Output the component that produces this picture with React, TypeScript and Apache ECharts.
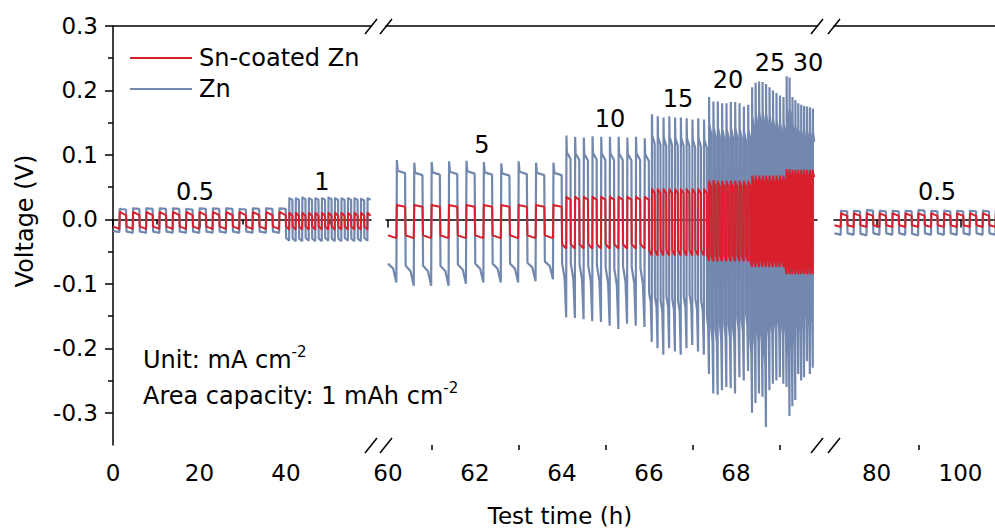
import React, { useEffect, useRef } from "react";
import * as echarts from "echarts";

// ---------- data ----------
// stages of the rate test: current density label, start/end time (h), axis segment
const stageLabels = ["0.5", "1", "5", "10", "15", "20", "25", "30", "0.5"];
const stageStart = [0, 40, 60, 64, 66, 67.33, 68.33, 69.13, 70.0];
const stageEnd = [40, 59.6, 64, 66, 67.33, 68.33, 69.13, 69.8, 109.9];
const stageSegment = [0, 0, 1, 1, 1, 1, 1, 1, 2];

// Zn: per-cycle maximum (charge) and minimum (discharge) voltage, V
const znTop = [
  [0.017, 0.018, 0.018, 0.018, 0.018, 0.017, 0.018, 0.018, 0.018, 0.017, 0.018, 0.018, 0.018],
  [0.034, 0.034, 0.035, 0.034, 0.034, 0.034, 0.035, 0.034, 0.034, 0.034, 0.034, 0.033, 0.034],
  [0.092, 0.088, 0.089, 0.09, 0.091, 0.089, 0.087, 0.09, 0.088, 0.088],
  [0.13, 0.128, 0.127, 0.129, 0.128, 0.128, 0.128, 0.127, 0.128, 0.126],
  [0.163, 0.16, 0.158, 0.16, 0.158, 0.158, 0.157, 0.155, 0.157, 0.155],
  [0.19, 0.183, 0.183, 0.18, 0.18, 0.182, 0.182, 0.18, 0.175, 0.178],
  [0.205, 0.212, 0.214, 0.213, 0.21, 0.205, 0.2, 0.196, 0.192, 0.19],
  [0.222, 0.22, 0.19, 0.185, 0.18, 0.178, 0.176, 0.175, 0.174, 0.172],
  [0.014, 0.014, 0.015, 0.014, 0.014, 0.014, 0.015, 0.014, 0.014, 0.014, 0.014, 0.014, 0.014],
];
const znBottom = [
  [-0.02, -0.021, -0.021, -0.021, -0.021, -0.021, -0.021, -0.021, -0.021, -0.021, -0.021, -0.021, -0.021],
  [-0.033, -0.034, -0.034, -0.033, -0.034, -0.034, -0.033, -0.034, -0.034, -0.033, -0.034, -0.034, -0.033],
  [-0.098, -0.103, -0.103, -0.103, -0.1, -0.098, -0.098, -0.098, -0.096, -0.093],
  [-0.152, -0.153, -0.155, -0.158, -0.159, -0.165, -0.17, -0.162, -0.165, -0.167],
  [-0.19, -0.2, -0.21, -0.2, -0.205, -0.21, -0.2, -0.195, -0.205, -0.21],
  [-0.24, -0.27, -0.272, -0.265, -0.26, -0.262, -0.27, -0.245, -0.25, -0.235],
  [-0.3, -0.285, -0.27, -0.275, -0.322, -0.265, -0.255, -0.25, -0.245, -0.255],
  [-0.26, -0.305, -0.29, -0.28, -0.24, -0.25, -0.245, -0.22, -0.24, -0.23],
  [-0.024, -0.024, -0.025, -0.024, -0.024, -0.024, -0.025, -0.024, -0.024, -0.024, -0.024, -0.024, -0.024],
];

// Sn-coated Zn: per-cycle maximum and minimum voltage, V
const snTop = [
  [0.012, 0.012, 0.012, 0.012, 0.012, 0.012, 0.012, 0.012, 0.012, 0.012, 0.012, 0.012, 0.012],
  [0.011, 0.011, 0.011, 0.011, 0.011, 0.011, 0.011, 0.011, 0.011, 0.011, 0.011, 0.011, 0.011],
  [0.023, 0.023, 0.023, 0.023, 0.023, 0.023, 0.023, 0.023, 0.023, 0.023],
  [0.036, 0.036, 0.036, 0.036, 0.036, 0.036, 0.036, 0.036, 0.036, 0.036],
  [0.048, 0.048, 0.048, 0.048, 0.048, 0.048, 0.048, 0.048, 0.048, 0.048],
  [0.06, 0.061, 0.06, 0.06, 0.06, 0.06, 0.06, 0.06, 0.06, 0.06],
  [0.068, 0.068, 0.068, 0.068, 0.068, 0.068, 0.068, 0.068, 0.068, 0.068],
  [0.078, 0.078, 0.077, 0.077, 0.077, 0.077, 0.077, 0.077, 0.077, 0.077],
  [0.01, 0.01, 0.01, 0.01, 0.01, 0.01, 0.01, 0.01, 0.01, 0.01, 0.01, 0.01, 0.01],
];
const snBottom = [
  [-0.015, -0.015, -0.015, -0.015, -0.015, -0.015, -0.015, -0.015, -0.015, -0.015, -0.015, -0.015, -0.015],
  [-0.016, -0.016, -0.016, -0.016, -0.016, -0.016, -0.016, -0.016, -0.016, -0.016, -0.016, -0.016, -0.016],
  [-0.029, -0.029, -0.029, -0.029, -0.029, -0.029, -0.029, -0.029, -0.029, -0.029],
  [-0.045, -0.045, -0.045, -0.045, -0.045, -0.045, -0.045, -0.045, -0.045, -0.045],
  [-0.056, -0.056, -0.056, -0.056, -0.056, -0.056, -0.056, -0.056, -0.056, -0.056],
  [-0.064, -0.065, -0.065, -0.065, -0.065, -0.065, -0.065, -0.065, -0.065, -0.065],
  [-0.074, -0.074, -0.074, -0.074, -0.074, -0.074, -0.074, -0.074, -0.074, -0.074],
  [-0.085, -0.085, -0.085, -0.085, -0.085, -0.085, -0.085, -0.085, -0.085, -0.085],
  [-0.012, -0.012, -0.012, -0.012, -0.012, -0.012, -0.012, -0.012, -0.012, -0.012, -0.012, -0.012, -0.012],
];

// profile shape within a half cycle, as fractions of that cycle's extreme
const znNegStart = [0.9, 0.88, 0.7, 0.45, 0.6, 0.62, 0.62, 0.62, 0.9];
const znNegMid = [0.95, 0.94, 0.78, 0.6, 0.68, 0.7, 0.7, 0.7, 0.95];
const znPosHold = [0.95, 0.95, 0.82, 0.8, 0.8, 0.78, 0.78, 0.78, 0.95];
const znPosEnd = [0.9, 0.9, 0.78, 0.72, 0.72, 0.7, 0.7, 0.7, 0.9];
const snNegStart = [0.75, 0.7, 0.85, 0.85, 0.85, 0.85, 0.85, 0.85, 0.75];
const snNegMid = [0.88, 0.85, 0.95, 0.95, 0.95, 0.95, 0.95, 0.95, 0.88];
const snPosHold = [0.9, 0.9, 0.95, 0.95, 0.95, 0.95, 0.95, 0.95, 0.9];
const snPosEnd = [0.55, 0.5, 0.85, 0.85, 0.85, 0.85, 0.85, 0.85, 0.55];

// axis ticks
const yMajorTicks = [-0.3, -0.2, -0.1, 0, 0.1, 0.2, 0.3];
const yMinorTicks = [-0.25, -0.15, -0.05, 0.05, 0.15, 0.25];
const segRanges = [
  [0, 59.65],
  [59.954, 69.862],
  [69.88, 108.2],
];
const segMajorTicks = [
  [0, 20, 40],
  [60, 62, 64, 66, 68],
  [80, 100],
];
const segMinorTicks = [
  [10, 30, 50],
  [61, 63, 65, 67, 69],
  [90],
];

const RED = "#D7202B";
const BLUE = "#7388AE";
const FONT = "DejaVu Sans";

function buildSegment(
  seg: number,
  tops: number[][],
  bots: number[][],
  negStart: number[],
  negMid: number[],
  posHold: number[],
  posEnd: number[]
) {
  const pts: number[][] = [];
  for (let s = 0; s < stageLabels.length; s++) {
    if (stageSegment[s] !== seg) continue;
    const n = tops[s].length;
    const P = (stageEnd[s] - stageStart[s]) / n;
    for (let i = 0; i < n; i++) {
      const t0 = stageStart[s] + i * P;
      const b = bots[s][i];
      const t = tops[s][i];
      if (pts.length === 0) pts.push([t0, b * negStart[s]]);
      pts.push([t0 + 0.015 * P, b * negStart[s]]);
      pts.push([t0 + 0.3 * P, b * negMid[s]]);
      pts.push([t0 + 0.48 * P, b]);
      pts.push([t0 + 0.51 * P, t]);
      pts.push([t0 + 0.56 * P, t * posHold[s]]);
      pts.push([t0 + 0.98 * P, t * posEnd[s]]);
    }
  }
  return pts;
}

export default function App() {
  const ref = useRef<HTMLDivElement>(null);
  useEffect(() => {
    if (!ref.current) return;
    const chart = echarts.init(ref.current, undefined, { renderer: "svg" });

    const grids = [
      { left: 113, top: 26, width: 258, height: 419 },
      { left: 386, top: 26, width: 431, height: 419 },
      { left: 834, top: 26, width: 170, height: 419 },
    ];
    const axisLineStyle = { color: "#000", width: 1.5 };
    const xAxes: any[] = [];
    for (let g = 0; g < 3; g++) {
      xAxes.push({
        type: "value",
        gridIndex: g,
        position: "bottom",
        min: segRanges[g][0],
        max: segRanges[g][1],
        axisLine: { show: true, lineStyle: axisLineStyle },
        axisTick: { show: true, length: 8, lineStyle: axisLineStyle, customValues: segMajorTicks[g] },
        axisLabel: {
          show: true,
          customValues: segMajorTicks[g],
          fontSize: 23,
          fontFamily: FONT,
          color: "#000",
          margin: 16,
        },
        splitLine: { show: false },
      });
      xAxes.push({
        type: "value",
        gridIndex: g,
        position: "bottom",
        min: segRanges[g][0],
        max: segRanges[g][1],
        axisLine: { show: false },
        axisTick: { show: true, length: 5, lineStyle: axisLineStyle, customValues: segMinorTicks[g] },
        axisLabel: { show: false },
        splitLine: { show: false },
      });
      xAxes.push({
        type: "value",
        gridIndex: g,
        position: "top",
        min: segRanges[g][0],
        max: segRanges[g][1],
        axisLine: { show: true, lineStyle: axisLineStyle },
        axisTick: { show: false },
        axisLabel: { show: false },
        splitLine: { show: false },
      });
    }
    const yBase = { type: "value", min: -0.35, max: 0.3, splitLine: { show: false } };
    const yAxes: any[] = [
      {
        ...yBase,
        gridIndex: 0,
        position: "left",
        axisLine: { show: true, lineStyle: axisLineStyle },
        axisTick: { show: true, length: 8, lineStyle: axisLineStyle, customValues: yMajorTicks },
        axisLabel: {
          show: true,
          customValues: yMajorTicks,
          formatter: (v: number) => v.toFixed(1),
          fontSize: 23,
          fontFamily: FONT,
          color: "#000",
          margin: 15,
        },
      },
      {
        ...yBase,
        gridIndex: 0,
        position: "left",
        axisLine: { show: false },
        axisTick: { show: true, length: 5, lineStyle: axisLineStyle, customValues: yMinorTicks },
        axisLabel: { show: false },
      },
      { ...yBase, gridIndex: 1, show: false },
      { ...yBase, gridIndex: 2, show: false },
    ];
    const yIndexOfGrid = [0, 2, 3];

    const series: any[] = [];
    for (let g = 0; g < 3; g++) {
      series.push({
        name: "Zn",
        type: "line",
        xAxisIndex: g * 3,
        yAxisIndex: yIndexOfGrid[g],
        symbol: "none",
        lineStyle: { color: BLUE, width: 2.2 },
        itemStyle: { color: BLUE },
        data: buildSegment(g, znTop, znBottom, znNegStart, znNegMid, znPosHold, znPosEnd),
      });
    }
    for (let g = 0; g < 3; g++) {
      series.push({
        name: "Sn-coated Zn",
        type: "line",
        xAxisIndex: g * 3,
        yAxisIndex: yIndexOfGrid[g],
        symbol: "none",
        lineStyle: { color: RED, width: 2 },
        itemStyle: { color: RED },
        data: buildSegment(g, snTop, snBottom, snNegStart, snNegMid, snPosHold, snPosEnd),
      });
    }

    const slash = (x: number, y: number) => ({
      type: "line",
      shape: { x1: x - 6, y1: y + 8, x2: x + 6, y2: y - 7 },
      style: { stroke: "#000", lineWidth: 1.5 },
      z: 100,
    });
    const label = (text: string, x: number, y: number) => ({
      type: "text",
      x,
      y,
      style: { text, fontSize: 24, fontFamily: FONT, fill: "#000", align: "center", verticalAlign: "middle" },
      z: 100,
    });
    const stageLabelPos = [
      [195, 192],
      [322, 182],
      [482, 145],
      [610, 119],
      [678, 99],
      [728, 80],
      [770, 63],
      [808, 63],
      [937, 192],
    ];

    const option: any = {
      animation: false,
      textStyle: { fontFamily: FONT },
      grid: grids,
      xAxis: xAxes,
      yAxis: yAxes,
      legend: {
        data: ["Sn-coated Zn", "Zn"],
        orient: "vertical",
        left: 130,
        top: 46,
        padding: 0,
        icon: "rect",
        itemWidth: 62,
        itemHeight: 2,
        itemGap: 7,
        textStyle: { fontSize: 24, fontFamily: FONT, color: "#000", padding: [0, 0, 0, 2] },
        selectedMode: false,
      },
      series,
      graphic: [
        ...[371, 386, 817, 834].flatMap((x) => [slash(x, 445), slash(x, 26)]),
        ...stageLabels.map((t, i) => label(t, stageLabelPos[i][0], stageLabelPos[i][1])),
        {
          type: "text",
          x: 560,
          y: 516,
          style: { text: "Test time (h)", fontSize: 23, fontFamily: FONT, fill: "#000", align: "center", verticalAlign: "middle" },
        },
        {
          type: "text",
          x: 25,
          y: 221,
          rotation: Math.PI / 2,
          style: { text: "Voltage (V)", fontSize: 24, fontFamily: FONT, fill: "#000", align: "center", verticalAlign: "middle" },
        },
        {
          type: "text",
          x: 143,
          y: 344,
          style: {
            text: "{a|Unit: mA cm}{b|-2}",
            rich: {
              a: { fontSize: 24, fontFamily: FONT, fill: "#000", lineHeight: 28, verticalAlign: "bottom" },
              b: { fontSize: 15, fontFamily: FONT, fill: "#000", lineHeight: 16, verticalAlign: "top" },
            },
          },
        },
        {
          type: "text",
          x: 143,
          y: 380,
          style: {
            text: "{a|Area capacity: 1 mAh cm}{b|-2}",
            rich: {
              a: { fontSize: 24, fontFamily: FONT, fill: "#000", lineHeight: 28, verticalAlign: "bottom" },
              b: { fontSize: 15, fontFamily: FONT, fill: "#000", lineHeight: 16, verticalAlign: "top" },
            },
          },
        },
      ],
    };
    chart.setOption(option);
    return () => chart.dispose();
  }, []);
  return (
    <div
      ref={ref}
      style={{ position: "fixed", left: 0, top: 0, width: 995, height: 531, background: "#fff", overflow: "hidden" }}
    />
  );
}
